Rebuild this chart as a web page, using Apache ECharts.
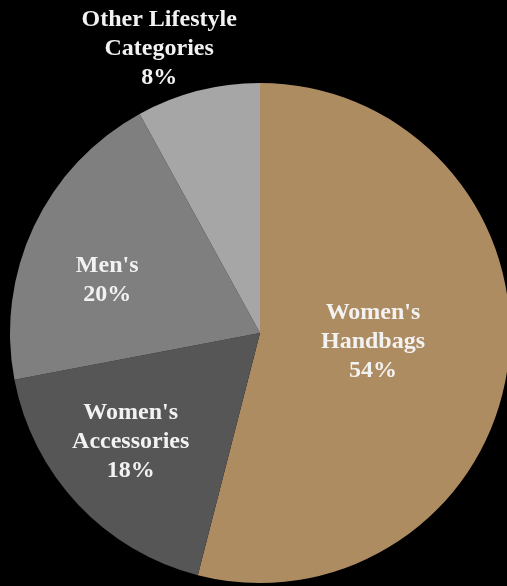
<!DOCTYPE html>
<html><head><meta charset="utf-8">
<script src="https://cdn.jsdelivr.net/npm/echarts@6/dist/echarts.min.js"></script>
<style>html,body{margin:0;padding:0;background:#000;}#c{width:507px;height:586px;}</style>
</head><body><div id="c"></div>
<script>
const categories = ["Women's\nHandbags", "Women's\nAccessories", "Men's", "Other Lifestyle\nCategories"];
const values = [54, 18, 20, 8];
const colors = ['#ae8c62', '#565656', '#7f7f7f', '#a6a6a6'];
const labelShift = [[-14, -7], [-36, 21], [-37, 2], [-69, -160]];

const chart = echarts.init(document.getElementById('c'), null, {renderer: 'canvas'});
chart.setOption({
  backgroundColor: '#000',
  animation: false,
  series: [{
    type: 'pie',
    center: [260, 333],
    radius: [0, 250],
    startAngle: 90,
    clockwise: true,
    data: categories.map((n, i) => ({name: n, value: values[i], itemStyle: {color: colors[i]}})),
    itemStyle: {borderWidth: 0},
    label: {
      show: true,
      position: 'inside',
      formatter: p => p.name + '\n' + p.value + '%',
      color: '#f2f2f2',
      fontFamily: 'Liberation Serif',
      fontWeight: 'bold',
      fontSize: 24,
      lineHeight: 29,
      align: 'center'
    },
    labelLine: {show: false},
    labelLayout: function (params) {
      const s = labelShift[params.dataIndex];
      return {dx: s[0], dy: s[1]};
    },
    emphasis: {disabled: true}
  }]
});
</script></body></html>
